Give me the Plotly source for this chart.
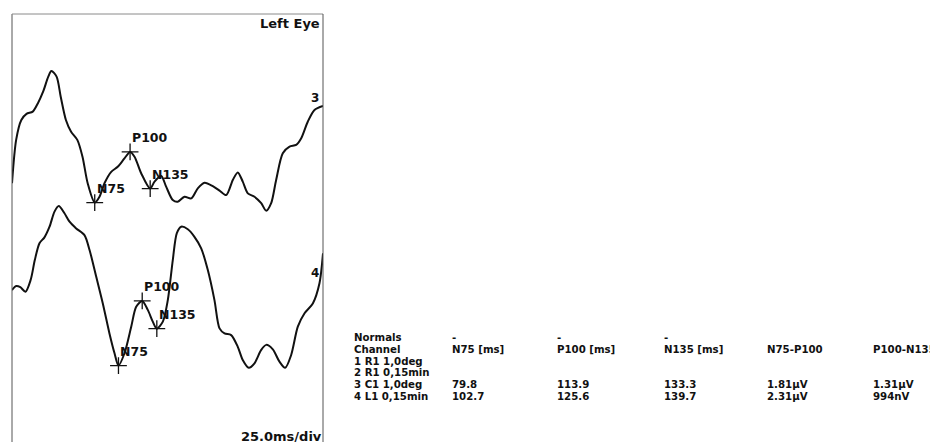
import plotly.graph_objects as go

# ---------------- data ----------------
# Channel 3 waveform (time in ms, amplitude in µV)
time3 = [0, 4, 9, 14, 20, 25, 30, 35, 38, 43, 47, 52, 57, 63, 68, 73, 79.8, 84.4, 89.2, 95.7,
         102, 108.5, 113.9, 118.2, 124.6, 133.3, 137.5, 143.9, 148.7, 155.1, 159.9, 166.4, 172.9,
         179.2, 185.7, 193.7, 200.2, 206.6, 213, 217.8, 222.6, 227.5, 233.9, 240.4, 245.2, 250,
         254.8, 261.2, 267.7, 274.1, 279, 285.3, 291.8, 300]
amp3 = [0, 1.55, 2.26, 2.48, 2.56, 2.86, 3.27, 3.81, 4.01, 3.81, 3.09, 2.26, 1.84, 1.55, 0.95, 0,
        -0.69, -0.48, 0, 0.41, 0.59, 0.89, 1.12, 0.95, 0.36, -0.19, 0.06, 0.26, -0.12, -0.6, -0.66,
        -0.48, -0.54, -0.18, 0.02, -0.1, -0.26, -0.42, 0.12, 0.39, 0.06, -0.36, -0.48, -0.71, -0.98,
        -0.71, 0.12, 1.07, 1.31, 1.37, 1.61, 2.2, 2.62, 2.76]

# Channel 4 waveform
time4 = [0, 4, 8, 13, 18, 22, 26.5, 31.3, 36.2, 41, 45.1, 50.6, 55.5, 61.9, 69.9, 74.8, 81.2, 87.6,
         94, 98.9, 102.7, 108.5, 115, 119.8, 125.6, 131, 135.8, 139.7, 145.5, 150.3, 155.1, 159,
         163.2, 169.6, 176, 182.5, 188.9, 195.3, 200.2, 205, 211.4, 217.8, 222.6, 228.4, 233.9,
         240.4, 245.2, 251.6, 258, 263.5, 269.3, 275.7, 282.2, 290.2, 296.6, 300]
amp4 = [0, 0.14, 0.10, -0.06, 0.36, 1.07, 1.67, 1.88, 2.26, 2.8, 3.0, 2.74, 2.44, 2.2, 1.96, 1.43,
        0.48, -0.48, -1.55, -2.26, -2.7, -2.26, -1.31, -0.6, -0.39, -0.71, -1.13, -1.38, -1.13,
        -0.36, 1.07, 2.03, 2.26, 2.17, 1.9, 1.49, 0.71, -0.36, -1.37, -1.55, -1.61, -2.03, -2.5,
        -2.78, -2.62, -2.14, -1.96, -2.12, -2.56, -2.78, -2.32, -1.31, -0.83, -0.48, 0.24, 1.31]

# Peak markers
peak_names = ["N75", "P100", "N135"]
peak_t3 = [79.8, 113.9, 133.3]
peak_a3 = [-0.69, 1.12, -0.19]
peak_t4 = [102.7, 125.6, 139.7]
peak_a4 = [-2.7, -0.39, -1.38]

# Table
table_headers = ["Channel", "N75 [ms]", "P100 [ms]", "N135 [ms]", "N75-P100", "P100-N135"]
normals_row = ["Normals", "-", "-", "-", "", ""]
channels = ["1 R1 1,0deg", "2 R1 0,15min", "3 C1 1,0deg", "4 L1 0,15min"]
n75_ms = ["", "", "79.8", "102.7"]
p100_ms = ["", "", "113.9", "125.6"]
n135_ms = ["", "", "133.3", "139.7"]
n75_p100 = ["", "", "1.81\u00b5V", "2.31\u00b5V"]
p100_n135 = ["", "", "1.31\u00b5V", "994nV"]

# ---------------- layout constants ----------------
W, H = 930, 442
ML, MT = 12, 14
PW, PH = 311, 428
PX_PER_UV = 28.0
OFF3 = -(183.3 - MT) / PX_PER_UV
OFF4 = -(290.0 - MT) / PX_PER_UV
YMIN = -PH / PX_PER_UV

FONT = "DejaVu Sans"


def xp(px):
    return (px - ML) / PW


def yp(py):
    return 1 - (py - MT) / PH


fig = go.Figure()

fig.add_trace(go.Scatter(x=time3, y=[a + OFF3 for a in amp3], mode="lines",
                         line=dict(color="#111111", width=2, shape="spline", smoothing=0.8),
                         hoverinfo="skip"))
fig.add_trace(go.Scatter(x=time4, y=[a + OFF4 for a in amp4], mode="lines",
                         line=dict(color="#111111", width=2, shape="spline", smoothing=0.8),
                         hoverinfo="skip"))

for pt, pa, off in ((peak_t3, peak_a3, OFF3), (peak_t4, peak_a4, OFF4)):
    fig.add_trace(go.Scatter(x=pt, y=[a + off for a in pa], mode="markers",
                             marker=dict(symbol="cross-thin", size=12,
                                         line=dict(color="#111111", width=1.3)),
                             hoverinfo="skip"))

annotations = []
for pt, pa, off in ((peak_t3, peak_a3, OFF3), (peak_t4, peak_a4, OFF4)):
    for name, t, a in zip(peak_names, pt, pa):
        annotations.append(dict(x=t, y=a + off, xref="x", yref="y", text=name,
                                showarrow=False, xanchor="left", yanchor="middle",
                                xshift=0, yshift=14,
                                font=dict(family=FONT, size=12.5, color="#111111", weight="bold")))

# Titles / labels in the frame
annotations.append(dict(x=xp(322), y=yp(23), xref="paper", yref="paper", text="Left Eye",
                        showarrow=False, xanchor="right", yanchor="middle",
                        font=dict(family=FONT, size=13, color="#111111", weight="bold")))
annotations.append(dict(x=xp(315), y=yp(98), xref="paper", yref="paper", text="3",
                        showarrow=False, xanchor="center", yanchor="middle",
                        font=dict(family=FONT, size=12, color="#111111", weight="bold")))
annotations.append(dict(x=xp(315), y=yp(273), xref="paper", yref="paper", text="4",
                        showarrow=False, xanchor="center", yanchor="middle",
                        font=dict(family=FONT, size=12, color="#111111", weight="bold")))
annotations.append(dict(x=xp(324), y=yp(436), xref="paper", yref="paper", text="25.0ms/div",
                        showarrow=False, xanchor="right", yanchor="middle",
                        font=dict(family=FONT, size=13, color="#111111", weight="bold")))

# Table
col_x = [352, 450, 555, 662, 765, 871]
row_y = [337.5, 349.3, 361, 372.8, 384.6, 396.4]
tfont = dict(family=FONT, size=10.2, color="#111111", weight="bold")


def add_cell(txt, cx, cy):
    if txt:
        annotations.append(dict(x=xp(cx), y=yp(cy), xref="paper", yref="paper", text=txt,
                                showarrow=False, xanchor="left", yanchor="middle", font=tfont))


for c, txt in enumerate(normals_row):
    add_cell(txt, col_x[c], row_y[0])
for c, txt in enumerate(table_headers):
    add_cell(txt, col_x[c], row_y[1])
for r, ch in enumerate(channels):
    cells = [ch, n75_ms[r], p100_ms[r], n135_ms[r], n75_p100[r], p100_n135[r]]
    for c, txt in enumerate(cells):
        add_cell(txt, col_x[c], row_y[2 + r])

shapes = [
    dict(type="line", xref="paper", yref="paper", x0=0, x1=0, y0=0, y1=1,
         line=dict(color="#555555", width=1)),
    dict(type="line", xref="paper", yref="paper", x0=0, x1=1, y0=1, y1=1,
         line=dict(color="#8a8a8a", width=1)),
    dict(type="line", xref="paper", yref="paper", x0=1, x1=1, y0=0, y1=1,
         line=dict(color="#555555", width=1)),
]

fig.update_layout(
    width=W, height=H,
    margin=dict(l=ML, t=MT, r=W - ML - PW, b=H - MT - PH, pad=0),
    paper_bgcolor="white", plot_bgcolor="white",
    showlegend=False,
    xaxis=dict(range=[0, 300], visible=False, showgrid=False, zeroline=False),
    yaxis=dict(range=[YMIN, 0], visible=False, showgrid=False, zeroline=False),
    annotations=annotations,
    shapes=shapes,
)

fig.write_html("out.html", config={"displayModeBar": False})
